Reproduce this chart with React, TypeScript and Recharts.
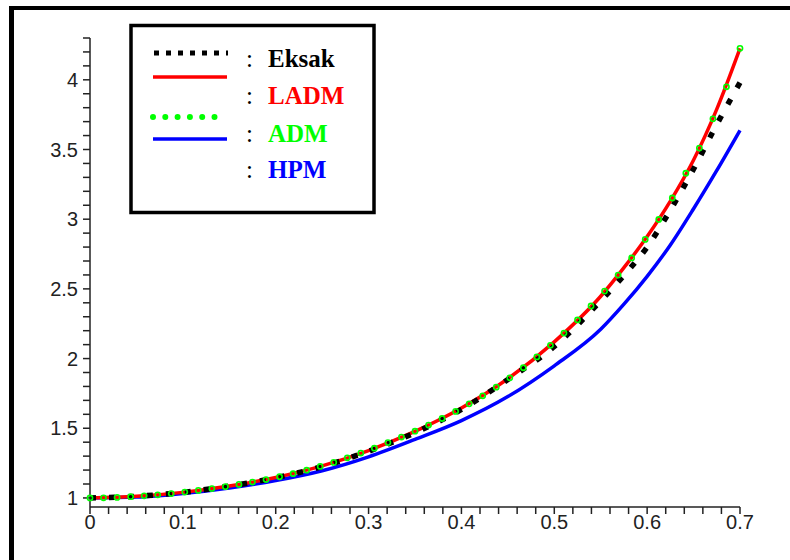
import { LineChart, Line, XAxis, YAxis } from 'recharts'

// Values.
const X_GRID = [0, 0.05, 0.1, 0.15, 0.2, 0.25, 0.3, 0.35, 0.4, 0.45, 0.5, 0.55, 0.575, 0.6, 0.625, 0.65, 0.675, 0.7]
const EKSAK = [1.0, 1.012, 1.04, 1.085, 1.145, 1.225, 1.335, 1.468, 1.635, 1.85, 2.087, 2.415, 2.597, 2.8, 3.065, 3.36, 3.68, 3.98]
const LADM = [1.0, 1.012, 1.04, 1.085, 1.147, 1.23, 1.34, 1.477, 1.645, 1.855, 2.12, 2.447, 2.652, 2.876, 3.13, 3.425, 3.79, 4.226]
const HPM = [1.0, 1.006, 1.032, 1.072, 1.125, 1.195, 1.295, 1.42, 1.555, 1.727, 1.948, 2.21, 2.39, 2.59, 2.815, 3.075, 3.35, 3.638]

// ADM is plotted as point markers, 49 of them, evenly spaced over [0, 0.7].
const ADM_X = Array.from({ length: 49 }, (_, k) => (k * 0.7) / 48)
const ADM = [
  1.0, 1.001, 1.004, 1.009, 1.015, 1.022, 1.031, 1.042, 1.054, 1.067,
  1.081, 1.097, 1.114, 1.132, 1.152, 1.174, 1.199, 1.226, 1.255, 1.288,
  1.322, 1.357, 1.397, 1.437, 1.479, 1.523, 1.57, 1.621, 1.675, 1.733,
  1.795, 1.862, 1.934, 2.012, 2.095, 2.183, 2.277, 2.377, 2.484, 2.599,
  2.722, 2.855, 2.998, 3.152, 3.33, 3.51, 3.72, 3.95, 4.226,
]

const X_TICKS = Array.from({ length: 36 }, (_, i) => Math.round(i * 2) / 100)
const Y_TICKS = Array.from({ length: 34 }, (_, i) => Math.round(10 + i) / 10)

const KEY = [
  { name: 'Eksak', color: '#000000' },
  { name: 'LADM', color: '#ff0000' },
  { name: 'ADM', color: '#00ff00' },
  { name: 'HPM', color: '#0000ff' },
]

const pts = (xs: number[], ys: number[]) => xs.map((x, i) => ({ x, y: ys[i] }))

const isStep = (v: number, step: number) => Math.abs(v / step - Math.round(v / step)) < 1e-6
const fmtX = (v: number) => (isStep(v, 0.1) ? String(Math.round(v * 10) / 10) : '')
const fmtY = (v: number) => (isStep(v, 0.5) ? String(Math.round(v * 10) / 10) : '')

const tickFont = { fontSize: 20, fill: '#222', fontFamily: "'Liberation Sans', Arial, sans-serif" }
const serif = "'Liberation Serif', 'Times New Roman', serif"

function Key() {
  const lineY = [53, 77, 117, 139]
  const textY = [66.7, 104, 141.7, 178.3]
  return (
    <svg width={790} height={560} style={{ position: 'absolute', left: 0, top: 0, pointerEvents: 'none' }}>
      <rect x={131} y={25.5} width={243} height={187} fill="#fff" stroke="#000" strokeWidth={3.5} />
      <line x1={154} x2={228} y1={lineY[0]} y2={lineY[0]} stroke="#000" strokeWidth={5} strokeDasharray="5 7" />
      <line x1={153} x2={227} y1={lineY[1]} y2={lineY[1]} stroke="#ff0000" strokeWidth={3.5} />
      <line x1={153} x2={218} y1={lineY[2]} y2={lineY[2]} stroke="#00ff00" strokeWidth={6}
        strokeDasharray="0 12.3" strokeLinecap="round" />
      <line x1={153} x2={227} y1={lineY[3]} y2={lineY[3]} stroke="#0000ff" strokeWidth={3.5} />
      {KEY.map((k, i) => (
        <g key={k.name}>
          <text x={246} y={textY[i]} fontFamily={serif} fontSize={25} fill="#000">:</text>
          <text x={268} y={textY[i]} fontFamily={serif} fontSize={25} fontWeight="bold" fill={k.color}>{k.name}</text>
        </g>
      ))}
    </svg>
  )
}

export default function App() {
  return (
    <div style={{ position: 'absolute', left: 0, top: 0, width: 790, height: 560, background: '#fff', overflow: 'hidden' }}>
      <div style={{
        position: 'absolute', left: 9, top: 6, width: 781, height: 554, boxSizing: 'border-box',
        borderTop: '4px solid #000', borderLeft: '5px solid #000',
      }} />
      <div style={{ position: 'absolute', left: 0, top: 0 }}>
        <LineChart width={790} height={560} margin={{ top: 38, right: 50, bottom: 23, left: 30 }}>
          <XAxis
            type="number" dataKey="x" domain={[0, 0.7]} ticks={X_TICKS} interval={0}
            tickFormatter={fmtX} tick={tickFont} tickSize={7} tickMargin={1}
            height={30} stroke="#222" strokeWidth={1.5} allowDuplicatedCategory={false}
          />
          <YAxis
            type="number" dataKey="y" domain={[0.935, 4.3]} ticks={Y_TICKS} interval={0}
            tickFormatter={fmtY} tick={tickFont} tickSize={7} tickMargin={5}
            width={60} stroke="#222" strokeWidth={1.5} allowDataOverflow
          />
          <Line data={pts(X_GRID, HPM)} dataKey="y" name="HPM" type="monotone"
            stroke="#0000ff" strokeWidth={3.5} dot={false} activeDot={false} isAnimationActive={false} />
          <Line data={pts(X_GRID, LADM)} dataKey="y" name="LADM" type="monotone"
            stroke="#ff0000" strokeWidth={3.5} dot={false} activeDot={false} isAnimationActive={false} />
          <Line data={pts(ADM_X, ADM)} dataKey="y" name="ADM" type="monotone"
            stroke="none" strokeWidth={0} activeDot={false} isAnimationActive={false}
            dot={{ r: 2.6, stroke: '#00ff00', strokeWidth: 1.6, fill: 'none' }} />
          <Line data={pts(X_GRID, EKSAK)} dataKey="y" name="Eksak" type="monotone"
            stroke="#000" strokeWidth={5.5} strokeDasharray="6 13" dot={false} activeDot={false}
            isAnimationActive={false} />
        </LineChart>
      </div>
      <Key />
    </div>
  )
}
